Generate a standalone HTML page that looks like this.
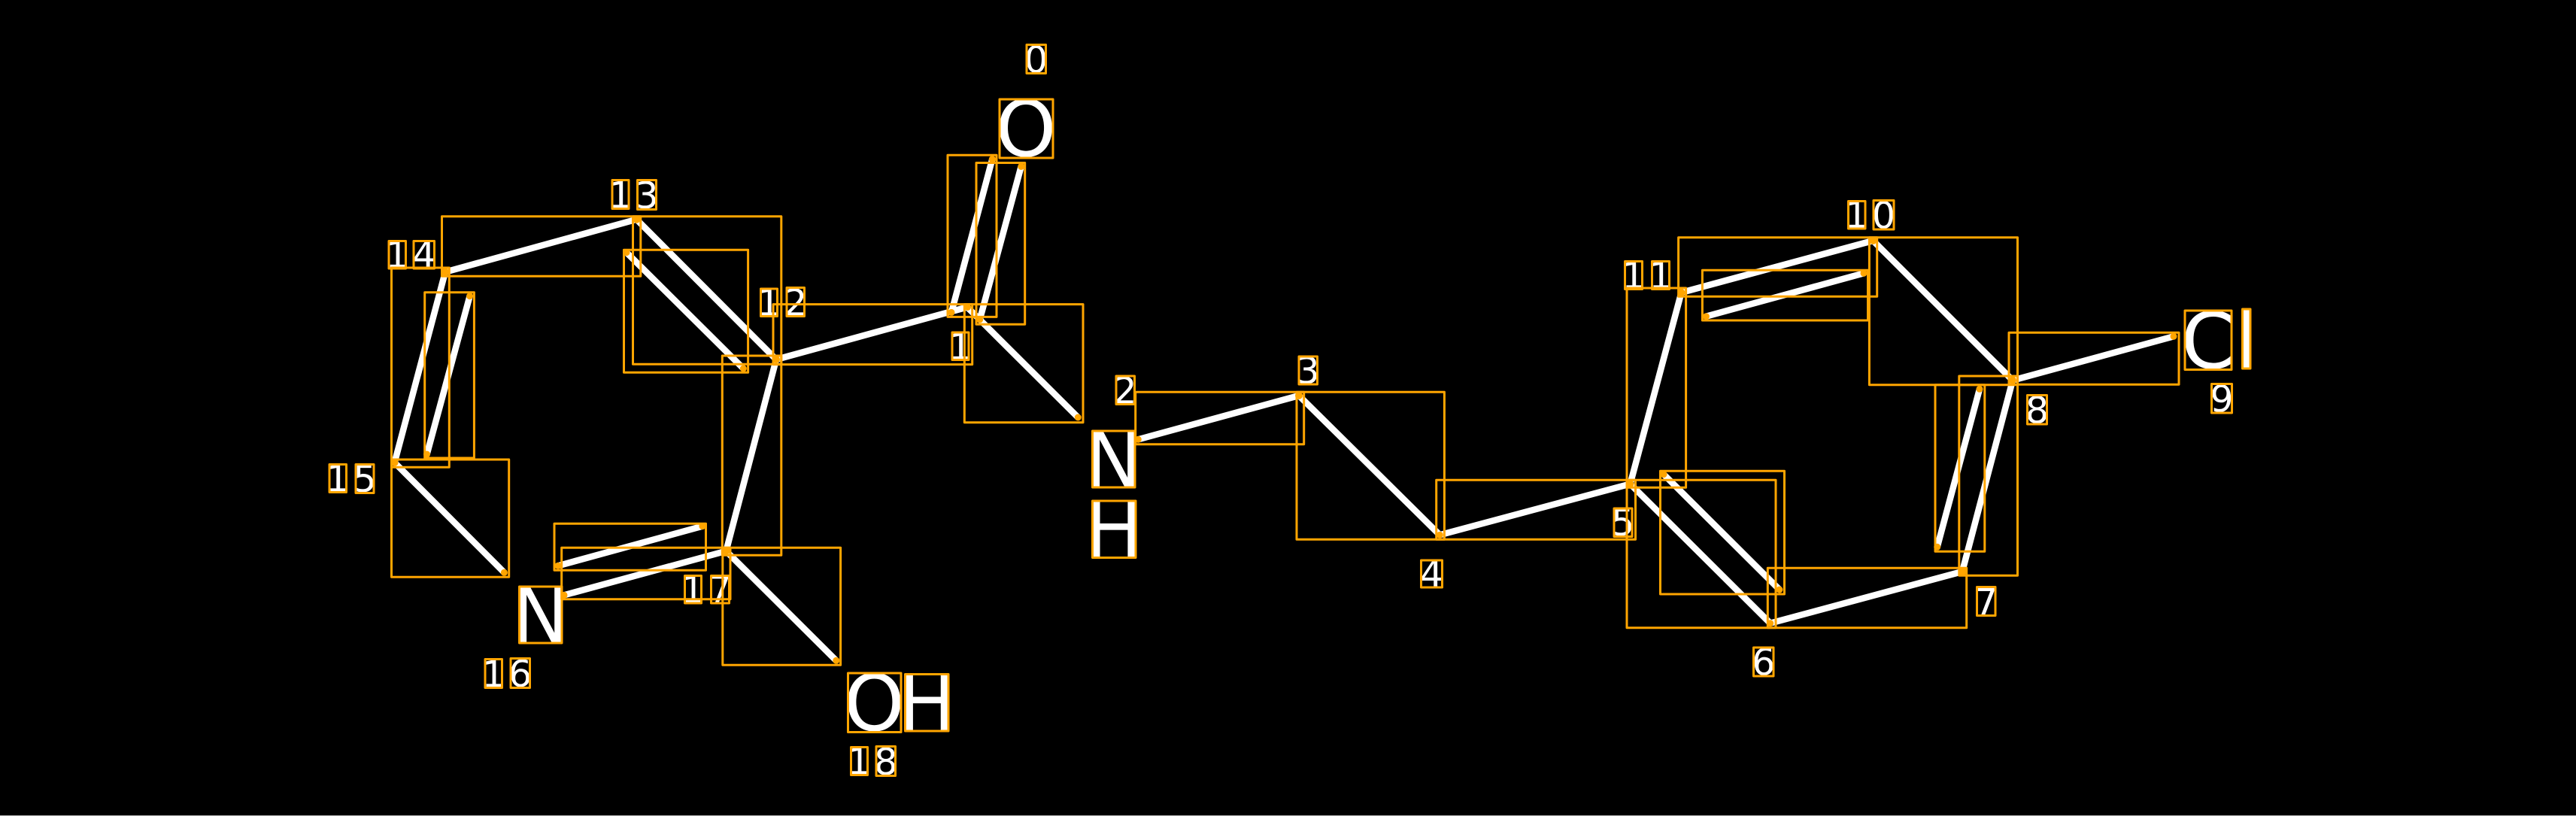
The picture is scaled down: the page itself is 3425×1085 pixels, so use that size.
<!DOCTYPE html>
<html>
<head>
<meta charset="utf-8">
<style>
html,body{margin:0;padding:0;background:#000;width:3425px;height:1085px;overflow:hidden}
svg{display:block}
text{font-family:"DejaVu Sans",sans-serif;fill:#fff;text-anchor:middle}
.s{font-size:49px}
.b{font-size:103px}
</style>
</head>
<body>
<svg width="3425" height="1085" viewBox="0 0 3425 1085" xmlns="http://www.w3.org/2000/svg">
<rect x="0" y="0" width="3425" height="1085" fill="#000"/>
<rect x="0" y="1084" width="3425" height="1" fill="#aaa"/>

<g stroke="#fff" stroke-width="8.5" stroke-linecap="butt" fill="none">
<line x1="1265" y1="415.4" x2="1319.3" y2="211.6"/>
<line x1="1302.7" y1="424.9" x2="1357.7" y2="221.4"/>
<line x1="1286" y1="408.4" x2="1433.3" y2="555"/>
<line x1="1032" y1="478" x2="1286" y2="408.4"/>
<line x1="1513.3" y1="584.3" x2="1727" y2="526"/>
<line x1="1727" y1="526" x2="1914.3" y2="711.3"/>
<line x1="1914.3" y1="711.3" x2="2167.5" y2="643.5"/>
<line x1="2167.5" y1="643.5" x2="2235.5" y2="389"/>
<line x1="2235.5" y1="389" x2="2490.4" y2="320"/>
<line x1="2268.4" y1="420.7" x2="2478" y2="363.3"/>
<line x1="2490.4" y1="320" x2="2676" y2="505.7"/>
<line x1="2676" y1="505.7" x2="2890" y2="447.3"/>
<line x1="2676" y1="505.7" x2="2609" y2="760"/>
<line x1="2632" y1="517.3" x2="2575.7" y2="727.3"/>
<line x1="2609" y1="760" x2="2353.7" y2="828.7"/>
<line x1="2353.7" y1="828.7" x2="2167.5" y2="643.5"/>
<line x1="2366" y1="784" x2="2212" y2="630.7"/>
<line x1="1032" y1="478" x2="846.4" y2="291.7"/>
<line x1="988.4" y1="490" x2="833" y2="335.7"/>
<line x1="846.4" y1="291.7" x2="592" y2="361.7"/>
<line x1="592" y1="361.7" x2="524.6" y2="615"/>
<line x1="624.6" y1="393.7" x2="567.6" y2="604"/>
<line x1="524.6" y1="615" x2="670.4" y2="761.3"/>
<line x1="1032" y1="478" x2="965.4" y2="732.7"/>
<line x1="965.4" y1="732.7" x2="750" y2="791.3"/>
<line x1="933.9" y1="699.7" x2="742" y2="752.3"/>
<line x1="965.4" y1="732.7" x2="1111.8" y2="878.3"/>
</g>

<text class="b" x="1364" y="207.5">O</text>
<text class="b" x="1480.6" y="647.5">N</text>
<text class="b" x="1481" y="740.5">H</text>
<text class="b" x="718.6" y="854">N</text>
<text class="b" x="1162.4" y="971">O</text>
<text class="b" x="1232.3" y="971">H</text>
<text class="b" x="2935.8" y="489.5">C</text>
<text class="b" x="2986.5" y="489">l</text>

<text class="s" x="1377.5" y="96.5">0</text>
<text class="s" x="1276.8" y="478">1</text>
<text class="s" x="1496" y="536.5">2</text>
<text class="s" x="1739" y="510">3</text>
<text class="s" x="1903.4" y="780.5">4</text>
<text class="s" x="2157.7" y="712">5</text>
<text class="s" x="2344.7" y="897.5">6</text>
<text class="s" x="2640.7" y="817.5">7</text>
<text class="s" x="2708.5" y="562.5">8</text>
<text class="s" x="2954" y="547.5">9</text>
<text class="s" x="2468.5" y="303">1</text>
<text class="s" x="2504.5" y="303.5">0</text>
<text class="s" x="2172" y="383.5">1</text>
<text class="s" x="2208" y="383.5">1</text>
<text class="s" x="1022.5" y="419.5">1</text>
<text class="s" x="1057.7" y="419.5">2</text>
<text class="s" x="825" y="276.5">1</text>
<text class="s" x="860" y="277">3</text>
<text class="s" x="528.2" y="356">1</text>
<text class="s" x="563.8" y="356">4</text>
<text class="s" x="449" y="653.5">1</text>
<text class="s" x="485" y="654">5</text>
<text class="s" x="656.2" y="913.5">1</text>
<text class="s" x="691.6" y="913">6</text>
<text class="s" x="921.2" y="801">1</text>
<text class="s" x="957.4" y="801">7</text>
<text class="s" x="1142.2" y="1029.5">1</text>
<text class="s" x="1177.8" y="1030">8</text>

<g stroke="#ffa500" stroke-width="3" stroke-linejoin="round" fill="none">
<!-- bond boxes -->
<path d="M1260 206.3H1325V421.4H1260Z"/>
<path d="M1298 216.5H1362.7V431.2H1298Z"/>
<path d="M1282.3 404.6H1440V561.8H1282.3Z"/>
<path d="M1028 404.6H1292.7V484.6H1028Z"/>
<path d="M1509.7 521.3H1733.7V590.7H1509.7Z"/>
<path d="M1724 521.3H1920.4V717.3H1724Z"/>
<path d="M1909.7 638.3H2174.5V717.3H1909.7Z"/>
<path d="M2163 383H2241.6V648.3H2163Z"/>
<path d="M2231.6 315.7H2495.7V394.3H2231.6Z"/>
<path d="M2263.4 359.3H2483.5V426H2263.4Z"/>
<path d="M2485.4 315.7H2682.5V511.7H2485.4Z"/>
<path d="M2671 442.3H2897V511.3H2671Z"/>
<path d="M2604.8 500H2682.5V765.3H2604.8Z"/>
<path d="M2573 511.7H2638.8V733.3H2573Z"/>
<path d="M2350.3 755.3H2614.7V834.7H2350.3Z"/>
<path d="M2163 638.3H2361V834.7H2163Z"/>
<path d="M2207.5 626.3H2372.5V790H2207.5Z"/>
<path d="M841.5 287.7H1038.8V484.3H841.5Z"/>
<path d="M829.5 332.3H994.6V495.3H829.5Z"/>
<path d="M587.5 287.7H851.8V367.3H587.5Z"/>
<path d="M520.5 356H597.3V621.3H520.5Z"/>
<path d="M564.7 388.7H630.4V609H564.7Z"/>
<path d="M520.5 611H676.7V767.3H520.5Z"/>
<path d="M960.3 473H1038.8V738.3H960.3Z"/>
<path d="M746.7 728.3H971V796.7H746.7Z"/>
<path d="M737 696.3H938.5V758.3H737Z"/>
<path d="M960.8 728.3H1117.6V884.3H960.8Z"/>
<!-- big glyph boxes -->
<path d="M1329 132H1400V210H1329Z"/>
<path d="M1452.5 573H1509V648H1452.5Z"/>
<path d="M1452.5 666H1510 V741.5H1452.5Z"/>
<path d="M690.5 780H747V855H690.5Z"/>
<path d="M1127.5 895H1198V973.5H1127.5Z"/>
<path d="M1203.5 896.5H1261V972H1203.5Z"/>
<path d="M2905 413H2967V491.5H2905Z"/>
<path d="M2981.5 411H2992V490H2981.5Z"/>
<!-- small glyph boxes -->
<path d="M1365 59.5H1390.5V97.5H1365Z"/>
<path d="M1266 442H1288V478.5H1266Z"/>
<path d="M1484 500H1508.5V537.5H1484Z"/>
<path d="M1727 474H1751.5V511H1727Z"/>
<path d="M1889.5 745H1917.5V781H1889.5Z"/>
<path d="M2146 676H2170V713.5H2146Z"/>
<path d="M2331.5 861H2358V899H2331.5Z"/>
<path d="M2628.5 780.5H2653V818.5H2628.5Z"/>
<path d="M2695.5 525.5H2721.5V564H2695.5Z"/>
<path d="M2940.5 510.5H2967.5V549H2940.5Z"/>
<path d="M2457.5 267.5H2480V304H2457.5Z"/>
<path d="M2491 266.5H2518V305H2491Z"/>
<path d="M2160.5 347.5H2183.5V384.5H2160.5Z"/>
<path d="M2196.5 347.5H2219.5V384.5H2196.5Z"/>
<path d="M1011.5 384H1033.5V420.5H1011.5Z"/>
<path d="M1046 382.5H1069.5V420.5H1046Z"/>
<path d="M814 239.5H836V277.5H814Z"/>
<path d="M847.5 239.5H872.5V278.5H847.5Z"/>
<path d="M517 320.5H539.5V357H517Z"/>
<path d="M550 320.5H577.5V357H550Z"/>
<path d="M438 617.5H460.5V654.5H438Z"/>
<path d="M473 617.5H497V655.5H473Z"/>
<path d="M645 876.5H667.5V914.5H645Z"/>
<path d="M679 875.5H704.5V914.5H679Z"/>
<path d="M910.5 765.5H932.5V802H910.5Z"/>
<path d="M945.5 765.5H969.5V802H945.5Z"/>
<path d="M1131.5 993.5H1153.5V1030.5H1131.5Z"/>
<path d="M1165 992.5H1190.5V1031.5H1165Z"/>
</g>

<g fill="#ffa500">
<circle cx="1319.3" cy="211.6" r="4.5"/>
<circle cx="1265" cy="415.4" r="4.5"/>
<circle cx="1357.7" cy="221.4" r="4.5"/>
<circle cx="1302.7" cy="424.9" r="4.5"/>
<circle cx="1286.5" cy="408.5" r="4.5"/>
<circle cx="1433.3" cy="555" r="4.5"/>
<circle cx="1032" cy="478" r="5"/>
<circle cx="1513.3" cy="584.3" r="4.5"/>
<circle cx="1727" cy="526" r="5"/>
<circle cx="1914.3" cy="711.3" r="4.5"/>
<circle cx="2167.5" cy="643.5" r="5"/>
<circle cx="2235.5" cy="389" r="5"/>
<circle cx="2490.4" cy="320" r="5"/>
<circle cx="2268.4" cy="420.7" r="4.5"/>
<circle cx="2478" cy="363.3" r="4.5"/>
<circle cx="2676" cy="505.7" r="5"/>
<circle cx="2890" cy="447.3" r="4.5"/>
<circle cx="2609" cy="760" r="5.5"/>
<circle cx="2632" cy="517.3" r="4.5"/>
<circle cx="2575.7" cy="727.3" r="4.5"/>
<circle cx="2353.7" cy="828.7" r="4.5"/>
<circle cx="2366" cy="784" r="4.5"/>
<circle cx="2212" cy="630.7" r="4.5"/>
<circle cx="846.4" cy="291.7" r="5"/>
<circle cx="833" cy="335.7" r="4.5"/>
<circle cx="988.4" cy="490" r="4.5"/>
<circle cx="592" cy="361.7" r="5"/>
<circle cx="524.6" cy="615" r="5"/>
<circle cx="624.6" cy="393.7" r="4.5"/>
<circle cx="567.6" cy="604" r="4.5"/>
<circle cx="670.4" cy="761.3" r="4.5"/>
<circle cx="965.4" cy="732.7" r="5"/>
<circle cx="750" cy="791.3" r="4.5"/>
<circle cx="933.9" cy="699.7" r="4.5"/>
<circle cx="742" cy="752.3" r="4.5"/>
<circle cx="1111.8" cy="878.3" r="4.5"/>
</g>
</svg>
</body>
</html>
